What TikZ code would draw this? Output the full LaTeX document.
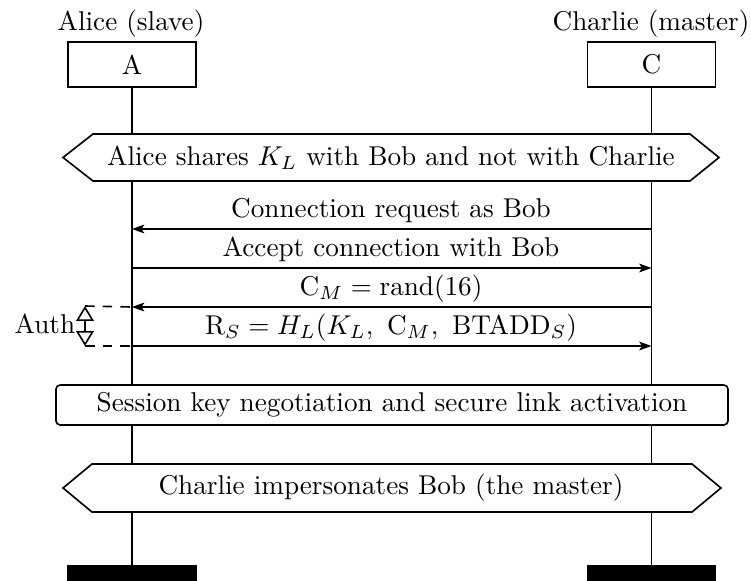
\documentclass[tikz,border=0pt]{standalone}
\usetikzlibrary{arrows.meta}
\begin{document}
\begin{tikzpicture}[x=0.3676pt,y=-0.3676pt,line width=0.6pt,
  inst/.style={draw,minimum width=47pt,minimum height=16.5pt,inner sep=0pt},
  endbox/.style={draw,fill=black,minimum width=47pt,minimum height=6pt,inner sep=0pt,anchor=north},
  msg/.style={-{Stealth[length=4.5pt,width=3.2pt,inset=1pt]}},
  lbl/.style={anchor=base,inner sep=0pt},
  hexa/.style={draw,fill=white}]
\useasboundingbox (0,0) rectangle (751,581);
% instances
\node[inst] (A) at (132,64.5) {A};
\node[inst] (C) at (651.5,64.5) {C};
\node[anchor=base,inner sep=0pt] (Al) at (131,30) {Alice (slave)};
\node[anchor=base,inner sep=0pt] (Cl) at (651,30) {Charlie (master)};
\node[endbox] (eA) at (132,565) {};
\node[endbox] (eC) at (651.5,565) {};
% lifelines
\draw (A.south) -- (eA.north);
\draw (C.south) -- (eC.north);
% hexagon 1
\draw[hexa] (63,157.5) -- (93,134) -- (690,134) -- (719,157.5) -- (690,181) -- (93,181) -- cycle;
\node[inner sep=0pt] (h1) at (391,157.5) {Alice shares $K_L$ with Bob and not with Charlie};
% messages
\foreach \n/\y in {1/229,2/268,3/307,4/346}{
  \coordinate (a\n) at (A |- 0,\y);
  \coordinate (c\n) at (C |- 0,\y);
}
\draw[msg] (c1) -- (a1);
\node[lbl] (m1) at (391,217.5) {Connection request as Bob};
\draw[msg] (a2) -- (c2);
\node[lbl] (m2) at (391,256.5) {Accept connection with Bob};
\draw[msg] (c3) -- (a3);
\node[lbl] (m3) at (391,295.5) {$\mathrm{C}_M = \mathrm{rand}(16)$};
\draw[msg] (a4) -- (c4);
\node[lbl] (m4) at (391,334.5) {$\mathrm{R}_S = H_L(K_L,\ \mathrm{C}_M,\ \mathrm{BTADD}_S)$};
% auth
\coordinate (t3) at (85,306);
\coordinate (t4) at (85,346);
\draw[dashed,dash pattern=on 3.5pt off 3pt] (t3) -- (a3);
\draw[dashed,dash pattern=on 3.5pt off 3pt] (t4) -- (a4);
\draw[{Triangle[open,length=5.5pt,width=6.5pt]}-{Triangle[open,length=5.5pt,width=6.5pt]}] (t3) -- (t4);
\node[anchor=base east,inner sep=0pt] (auth) at (76,333) {Auth};
% session box
\node[draw,fill=white,rounded corners=1.5pt,minimum width=247pt,minimum height=14.7pt,inner sep=0pt] (s) at (392,405) {Session key negotiation and secure link activation};
% hexagon 2
\draw[hexa] (63,488) -- (92,464) -- (692,464) -- (721,488) -- (692,512) -- (92,512) -- cycle;
\node[inner sep=0pt] (h2) at (391,488) {Charlie impersonates Bob (the master)};
\end{tikzpicture}
\end{document}
